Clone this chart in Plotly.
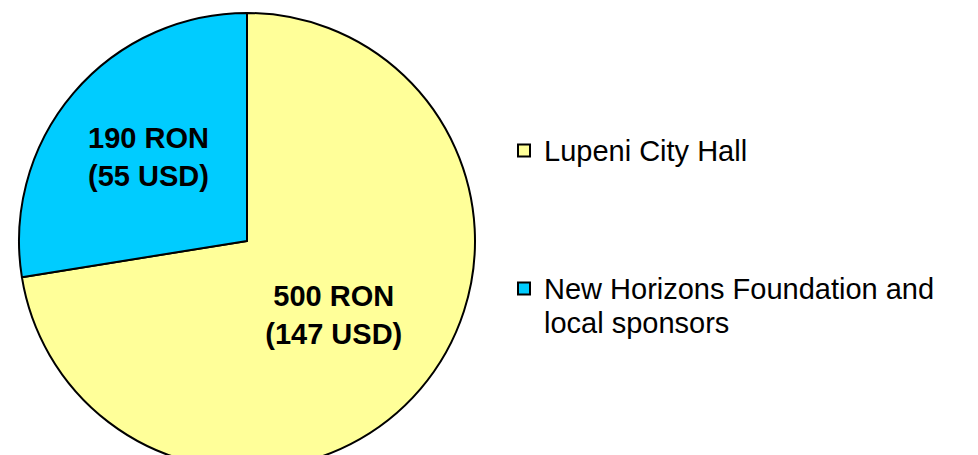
import plotly.graph_objects as go

categories = ["Lupeni City Hall", "New Horizons Foundation and", "local sponsors"]
ron_values = [500, 190]
usd_values = [147, 55]
colors = ["#FFFF99", "#00CCFF"]

labels_text = [f"{r} RON<br>({u} USD)" for r, u in zip(ron_values, usd_values)]

SPAN = "<span style='font-size:29px'>{}</span>"
legend_names = [
    SPAN.format(categories[0]) + "<br> <br> <br>",
    SPAN.format(categories[1]) + "<br>" + SPAN.format(categories[2]),
]

W, H = 978, 470
R = 228
CX, CY = 239, 233  # figure px (page has 8px body offset)

fig = go.Figure(
    go.Pie(
        labels=legend_names,
        values=ron_values,
        text=labels_text,
        texttemplate="%{text}",
        textposition="inside",
        insidetextorientation="horizontal",
        textfont=dict(family="Liberation Sans, Arial, sans-serif", size=29, color="black", weight="bold"),
        marker=dict(colors=colors, line=dict(color="black", width=2)),
        sort=False,
        direction="clockwise",
        rotation=0,
        domain=dict(x=[(CX - R) / W, (CX + R) / W], y=[1 - (CY + R) / H, 1 - (CY - R) / H]),
        hoverinfo="value",
    )
)

fig.update_layout(
    width=W,
    height=H,
    margin=dict(l=0, r=0, t=0, b=0),
    paper_bgcolor="white",
    plot_bgcolor="white",
    font=dict(family="Liberation Sans, Arial, sans-serif", color="black"),
    showlegend=True,
    legend=dict(
        x=496 / W,
        y=1 - 119 / H,
        xanchor="left",
        yanchor="top",
        valign="top",
        font=dict(size=26, color="black"),
        bgcolor="rgba(0,0,0,0)",
        itemclick=False,
    ),
)

fig.write_html("out.html")
